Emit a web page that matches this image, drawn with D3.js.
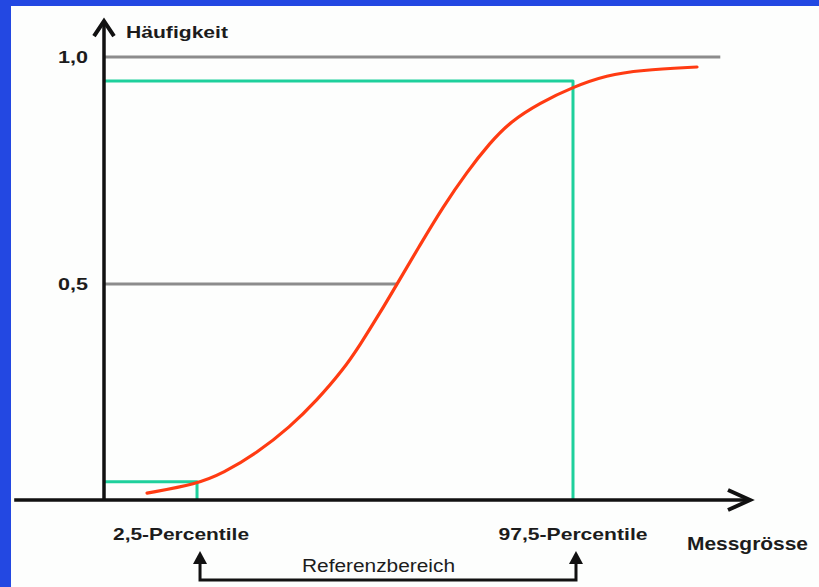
<!DOCTYPE html>
<html><head><meta charset="utf-8">
<script src="https://cdn.jsdelivr.net/npm/d3@7"></script>
<style>html,body{margin:0;padding:0;background:#fff;}svg{display:block;}</style>
</head><body>
<script>
// ---- data ----
const curveX = [6.66, 14.40, 18.42, 23.68, 28.79, 32.97, 37.00, 39.63, 42.72, 45.36, 48.92, 52.48, 56.19, 59.75, 62.85, 67.49, 72.60, 77.86, 82.97, 91.80];
const curveY = [0.016, 0.037, 0.062, 0.109, 0.169, 0.231, 0.301, 0.359, 0.433, 0.500, 0.586, 0.670, 0.747, 0.811, 0.857, 0.899, 0.934, 0.960, 0.971, 0.978];
const yTicks = [0.5, 1.0];
const yTickLabels = ["0,5", "1,0"];
const gridEndX = [45.4, 95.4];
const pctX = [14.4, 72.6];
const pctY = [0.042, 0.947];
const pctLabels = ["2,5-Percentile", "97,5-Percentile"];
const yTitle = "Häufigkeit";
const xTitle = "Messgrösse";
const rangeLabel = "Referenzbereich";

// ---- setup ----
const W = 819, H = 587;
const svg = d3.select("body").append("svg").attr("width", W).attr("height", H);
svg.append("rect").attr("width", W).attr("height", H).attr("fill", "#2348e2");
svg.append("rect").attr("x", 11).attr("y", 6).attr("width", W - 11).attr("height", H - 6).attr("fill", "#fdfefd");

const x = d3.scaleLinear().domain([0, 100]).range([104, 750]);
const y = d3.scaleLinear().domain([0, 0.5, 1]).range([500, 284, 57]);
const font = "'Liberation Sans', Arial, Helvetica, sans-serif";
const ink = "#1c1c1c";

// gray reference lines
svg.selectAll("line.grid").data(yTicks).enter().append("line")
  .attr("x1", x(0)).attr("x2", (d, i) => x(gridEndX[i]))
  .attr("y1", d => y(d)).attr("y2", d => y(d))
  .attr("stroke", "#8c8c8c").attr("stroke-width", 3);

// green percentile lines
svg.selectAll("path.pct").data(pctX).enter().append("path")
  .attr("d", (d, i) => `M${x(0)},${y(pctY[i])}H${x(d)}V${y(0)}`)
  .attr("fill", "none").attr("stroke", "#1ed09c").attr("stroke-width", 3)
  .attr("stroke-linejoin", "round");

// red curve
const pts = curveX.map((d, i) => [d, curveY[i]]);
svg.append("path").datum(pts)
  .attr("d", d3.line().x(d => x(d[0])).y(d => y(d[1])).curve(d3.curveBasis))
  .attr("fill", "none").attr("stroke", "#ff3b12").attr("stroke-width", 3.2)
  .attr("stroke-linecap", "round");

// axes
const x0 = x(-13.9), xEnd = x(100), yTop = y(1.079), y0 = y(0);
svg.append("line").attr("x1", x0).attr("x2", xEnd - 2).attr("y1", y0).attr("y2", y0)
  .attr("stroke", "#111").attr("stroke-width", 3.5);
svg.append("line").attr("x1", x(0)).attr("x2", x(0)).attr("y1", y0).attr("y2", yTop + 2)
  .attr("stroke", "#111").attr("stroke-width", 3.5);
svg.append("path").attr("d", `M${xEnd - 22},${y0 - 10}L${xEnd},${y0}L${xEnd - 22},${y0 + 10}`)
  .attr("fill", "none").attr("stroke", "#111").attr("stroke-width", 4).attr("stroke-linejoin", "miter");
svg.append("path").attr("d", `M${x(0) - 10},${yTop + 15}L${x(0)},${yTop}L${x(0) + 10},${yTop + 15}`)
  .attr("fill", "none").attr("stroke", "#111").attr("stroke-width", 4).attr("stroke-linejoin", "miter");

// y tick labels
svg.selectAll("text.yt").data(yTicks).enter().append("text")
  .attr("x", 88).attr("y", d => y(d) + 6).attr("text-anchor", "end")
  .attr("font-family", font).attr("font-weight", "bold").attr("font-size", 17).attr("fill", ink)
  .attr("textLength", 30).attr("lengthAdjust", "spacingAndGlyphs")
  .text((d, i) => yTickLabels[i]);

// titles
svg.append("text").attr("x", 126).attr("y", 38).text(yTitle)
  .attr("font-family", font).attr("font-weight", "bold").attr("font-size", 17).attr("fill", ink)
  .attr("textLength", 102).attr("lengthAdjust", "spacingAndGlyphs");
svg.append("text").attr("x", 687).attr("y", 550).text(xTitle)
  .attr("font-family", font).attr("font-weight", "bold").attr("font-size", 18).attr("fill", ink)
  .attr("textLength", 121).attr("lengthAdjust", "spacingAndGlyphs");

// percentile labels
const pctLabelDx = [-16, 0];
const pctLabelW = [136, 149];
svg.selectAll("text.pl").data(pctX).enter().append("text")
  .attr("x", (d, i) => x(d) + pctLabelDx[i] - pctLabelW[i] / 2).attr("y", 540)
  .attr("font-family", font).attr("font-weight", "bold").attr("font-size", 17).attr("fill", ink)
  .attr("textLength", (d, i) => pctLabelW[i]).attr("lengthAdjust", "spacingAndGlyphs")
  .text((d, i) => pctLabels[i]);

// reference range bracket
const bx = pctX.map(d => x(d) + 3);
svg.append("path").attr("d", `M${bx[0]},562V580H${bx[1]}V562`)
  .attr("fill", "none").attr("stroke", "#111").attr("stroke-width", 3);
svg.selectAll("path.ah").data(bx).enter().append("path")
  .attr("d", d => `M${d - 7},564L${d},551L${d + 7},564Z`).attr("fill", "#111");
svg.append("text").attr("x", 302).attr("y", 572).text(rangeLabel)
  .attr("font-family", font).attr("font-size", 18).attr("fill", ink)
  .attr("textLength", 153).attr("lengthAdjust", "spacingAndGlyphs");
</script>
</body></html>
